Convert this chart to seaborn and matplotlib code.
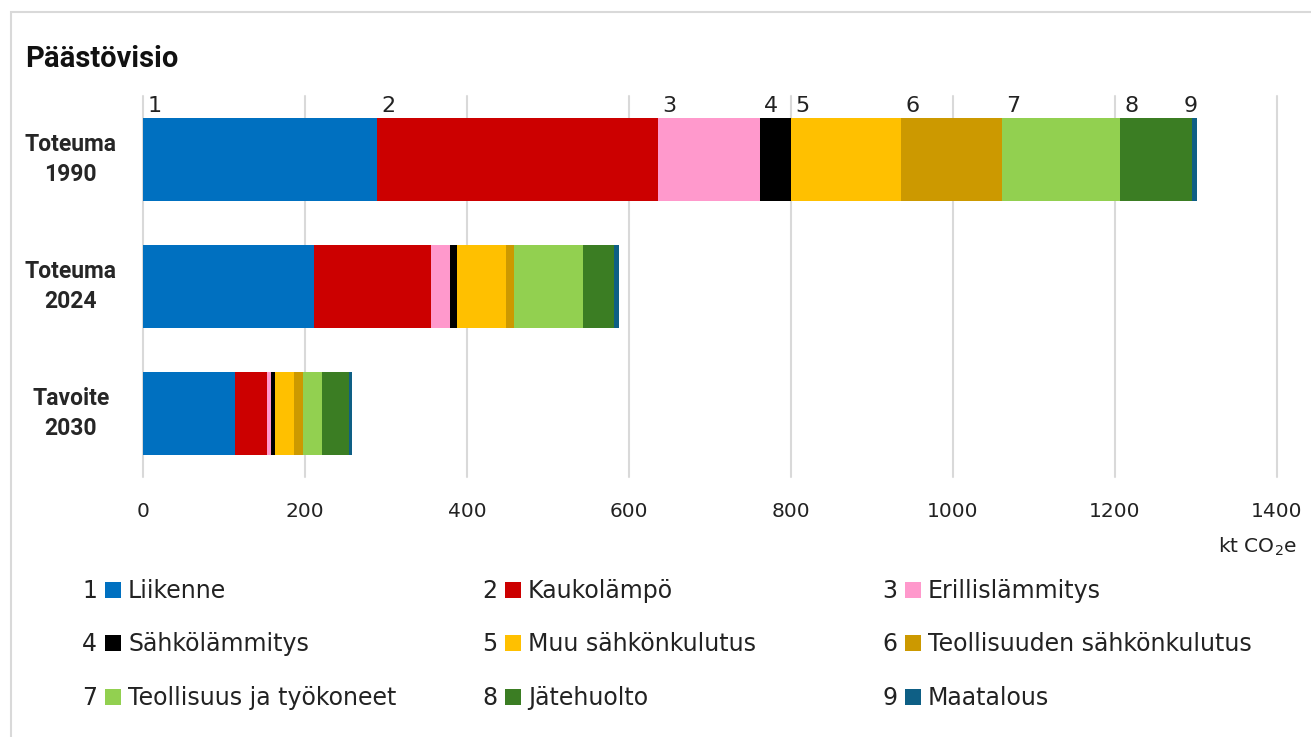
import matplotlib
matplotlib.use("Agg")
import matplotlib.pyplot as plt
import numpy as np
import pandas as pd
import seaborn as sns
from matplotlib.patches import Rectangle

# emissions, kt CO2e, per sector for each scenario
SCENARIOS = ["Toteuma\n1990", "Toteuma\n2024", "Tavoite\n2030"]
SECTORS = [
    "Liikenne",
    "Kaukolämpö",
    "Erillislämmitys",
    "Sähkölämmitys",
    "Muu sähkönkulutus",
    "Teollisuuden sähkönkulutus",
    "Teollisuus ja työkoneet",
    "Jätehuolto",
    "Maatalous",
]
LIIKENNE = [289, 211, 114]
KAUKOLAMPO = [347, 144, 39]
ERILLISLAMMITYS = [126, 24, 5]
SAHKOLAMMITYS = [38, 9, 5]
MUU_SAHKO = [136, 60, 24]
TEOLLISUUDEN_SAHKO = [124, 10, 10]
TEOLLISUUS_TYOKONEET = [146, 85, 24]
JATEHUOLTO = [89, 38, 33]
MAATALOUS = [6, 7, 4]
X_TICKS = [0, 200, 400, 600, 800, 1000, 1200, 1400]

COLORS = ["#0070C0", "#CC0000", "#FF99CC", "#000000", "#FFC000",
          "#CC9900", "#92D050", "#3B7D23", "#0E5F85"]

W, H = 1311, 737


def build_frame():
    values = [LIIKENNE, KAUKOLAMPO, ERILLISLAMMITYS, SAHKOLAMMITYS, MUU_SAHKO,
              TEOLLISUUDEN_SAHKO, TEOLLISUUS_TYOKONEET, JATEHUOLTO, MAATALOUS]
    arr = np.array(values, dtype=float)
    cum = np.cumsum(arr, axis=0)
    rows = []
    for i, sector in enumerate(SECTORS):
        for j, scen in enumerate(SCENARIOS):
            rows.append({"sector": sector, "scenario": scen, "value": arr[i, j],
                         "start": cum[i, j] - arr[i, j], "end": cum[i, j]})
    return pd.DataFrame(rows)


def main():
    sns.set_style("white")
    plt.rcParams["font.family"] = ["DejaVu Sans"]
    df = build_frame()

    fig = plt.figure(figsize=(W / 100, H / 100), dpi=100)
    ax = fig.add_axes([143 / W, 1 - 477 / H, 1134 / W, 381 / H])

    # stacked bars: draw cumulative totals from the last sector backwards
    for sector, color in reversed(list(zip(SECTORS, COLORS))):
        sub = df[df["sector"] == sector]
        sns.barplot(data=sub, x="end", y="scenario", order=SCENARIOS, color=color,
                    saturation=1, width=0.66, linewidth=0, errorbar=None, ax=ax)

    ax.set_xlim(0, 1400)
    ax.set_xticks(X_TICKS)
    ax.set_xlabel("")
    ax.set_ylabel("")
    for sp in ax.spines.values():
        sp.set_visible(False)
    ax.grid(axis="x", color="#d9d9d9", linewidth=1.5)
    ax.set_axisbelow(True)
    for gl in ax.get_xgridlines():
        gl.set_clip_on(False)
    ax.tick_params(axis="x", length=0, pad=18, labelsize=14.5, labelcolor="#222222")
    ax.tick_params(axis="y", length=0, pad=52)
    for lab in ax.get_yticklabels():
        lab.set_ha("center")
        lab.set_va("center")
        lab.set_multialignment("center")
        lab.set_family("Roboto")
        lab.set_weight("bold")
        lab.set_fontsize(16.5)
        lab.set_linespacing(1.35)

    # sector numbers above the first bar
    first = df[df["scenario"] == SCENARIOS[0]].reset_index(drop=True)
    for i, row in first.iterrows():
        if i == len(first) - 1:
            ax.annotate(str(i + 1), (row["end"], -0.33), xytext=(1, 4), textcoords="offset points",
                        ha="right", va="baseline", fontsize=16, color="#222222")
        else:
            ax.annotate(str(i + 1), (row["start"], -0.33), xytext=(3, 4), textcoords="offset points",
                        ha="left", va="baseline", fontsize=16, color="#222222")

    fig.text(1297 / W, 1 - 553 / H, "kt CO$_2$e", ha="right", va="baseline",
             fontsize=14.5, color="#222222")

    # title and outer frame
    fig.text(25 / W, 1 - 67 / H, "Päästövisio", family="Roboto", weight="bold",
             fontsize=21, ha="left", va="baseline", color="#111111")
    fig.add_artist(Rectangle((11 / W, -0.1), 1.2, 1.1 - 12 / H, fill=False,
                             edgecolor="#d9d9d9", linewidth=1.5, transform=fig.transFigure))

    # legend: number, square, name in three columns
    col_x = [105, 505, 905]
    row_base = [598, 651, 705]
    for k, (sector, color) in enumerate(zip(SECTORS, COLORS)):
        x0 = col_x[k % 3]
        yb = row_base[k // 3]
        fig.text((x0 - 8) / W, 1 - yb / H, str(k + 1), ha="right", va="baseline",
                 fontsize=17, color="#222222")
        fig.add_artist(Rectangle((x0 / W, 1 - yb / H), 16 / W, 16 / H, facecolor=color,
                                 edgecolor="none", transform=fig.transFigure))
        fig.text((x0 + 23) / W, 1 - yb / H, sector, ha="left", va="baseline",
                 fontsize=17, color="#222222")

    fig.savefig("out.png", dpi=100)
    plt.close(fig)


if __name__ == "__main__":
    main()
